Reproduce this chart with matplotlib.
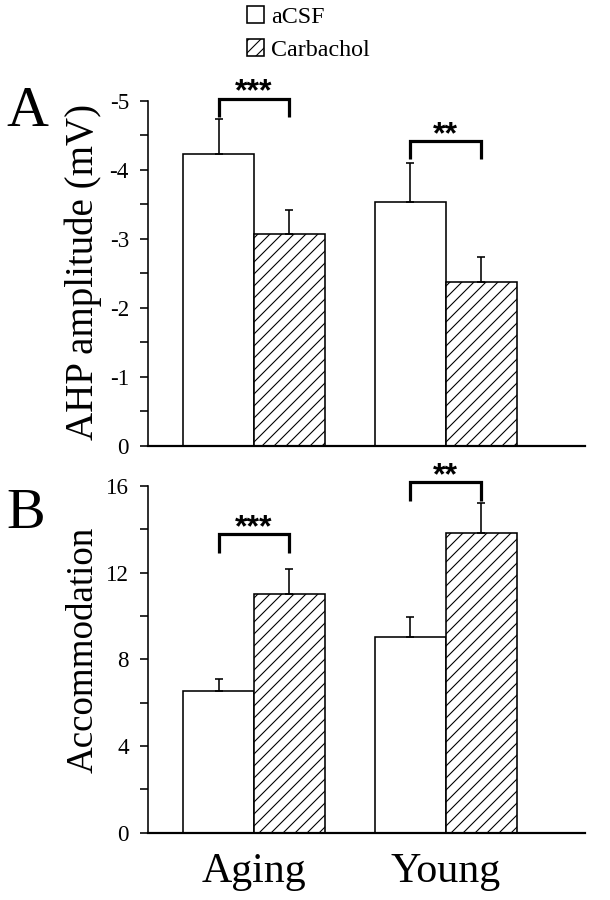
import matplotlib
matplotlib.use("Agg")
import matplotlib.pyplot as plt
import numpy as np

# ---------------- data ----------------
groups = ["Aging", "Young"]
series = ["aCSF", "Carbachol"]

ahp_acsf = [-4.23, -3.54]
ahp_acsf_err = [0.50, 0.56]
ahp_carb = [-3.07, -2.38]
ahp_carb_err = [0.35, 0.36]

acc_acsf = [6.55, 9.05]
acc_acsf_err = [0.53, 0.90]
acc_carb = [11.03, 13.85]
acc_carb_err = [1.15, 1.35]

sig_labels = ["***", "**"]
sig_y_A = [-5.03, -4.42]
sig_y_B = [13.78, 16.17]

ticks_A = [0, -1, -2, -3, -4, -5]
ticklabels_A = ["0", "-1", "-2", "-3", "-4", "-5"]
ticks_B = [0, 4, 8, 12, 16]
ticklabels_B = ["0", "4", "8", "12", "16"]

# ---------------- style ----------------
DPI = 72
W, H = 610, 900
plt.rcParams["font.family"] = ["Liberation Serif", "DejaVu Serif"]
plt.rcParams["hatch.linewidth"] = 1.1
plt.rcParams["axes.unicode_minus"] = False

fig = plt.figure(figsize=(W / DPI, H / DPI), dpi=DPI)

left_px, right_px = 148, 585
axA = fig.add_axes([left_px / W, 1 - 446 / H, (right_px - left_px) / W, (446 - 100.7) / H])
axB = fig.add_axes([left_px / W, 1 - 832.7 / H, (right_px - left_px) / W, (832.7 - 486) / H])

x = np.arange(len(groups))
bw = 0.37
xlim = (-0.553, 1.727)


def draw_panel(ax, a_vals, a_err, c_vals, c_err, negative):
    zeros = [0] * len(a_vals)
    if negative:
        a_yerr = [a_err, zeros]
        c_yerr = [c_err, zeros]
    else:
        a_yerr = [zeros, a_err]
        c_yerr = [zeros, c_err]
    b1 = ax.bar(x - bw / 2, a_vals, bw, color="white", edgecolor="black", linewidth=1.6,
                yerr=a_yerr, error_kw=dict(ecolor="black", elinewidth=1.6, capsize=4, capthick=1.6),
                label=series[0], zorder=2)
    b2 = ax.bar(x + bw / 2, c_vals, bw, color="white", edgecolor="black", linewidth=1.6,
                hatch="//", yerr=c_yerr,
                error_kw=dict(ecolor="black", elinewidth=1.6, capsize=4, capthick=1.6),
                label=series[1], zorder=2)
    ax.set_xlim(*xlim)
    for s in ["top", "right"]:
        ax.spines[s].set_visible(False)
    ax.spines["left"].set_linewidth(1.6)
    ax.spines["bottom"].set_linewidth(2.2)
    ax.tick_params(axis="x", length=0, pad=20, labelsize=42)
    ax.tick_params(axis="y", which="both", direction="out", length=8, width=1.6,
                   pad=11, labelsize=23)
    return b1, b2


bA1, bA2 = draw_panel(axA, ahp_acsf, ahp_acsf_err, ahp_carb, ahp_carb_err, True)
axA.set_ylim(0, -5)
axA.set_yticks(ticks_A)
axA.set_yticklabels(ticklabels_A)
axA.set_yticks(np.arange(-0.5, -5, -1.0), minor=True)
axA.set_xticks([])

bB1, bB2 = draw_panel(axB, acc_acsf, acc_acsf_err, acc_carb, acc_carb_err, False)
axB.set_ylim(0, 16)
axB.set_yticks(ticks_B)
axB.set_yticklabels(ticklabels_B)
axB.set_yticks(np.arange(2, 16, 4), minor=True)
axB.set_xticks(x)
axB.set_xticklabels(groups)


def brackets(ax, ys, drop):
    for xi, yb, lab in zip(x, ys, sig_labels):
        xl, xr = xi - bw / 2, xi + bw / 2
        ax.plot([xl, xl, xr, xr], [yb - drop, yb, yb, yb - drop], color="black",
                lw=3.2, solid_joinstyle="miter", solid_capstyle="butt", clip_on=False, zorder=3)
        ax.annotate(lab, (xi, yb), xytext=(0, -2), textcoords="offset points",
                    ha="center", va="baseline", fontsize=32, fontweight="bold",
                    family=["Liberation Sans", "DejaVu Sans"], annotation_clip=False)


brackets(axA, sig_y_A, -0.27)
brackets(axB, sig_y_B, 0.85)

# y labels
fig.text(83 / W, 1 - 272 / H, "AHP amplitude (mV)", rotation=90, ha="center", va="center", fontsize=39)
fig.text(83 / W, 1 - 650 / H, "Accommodation", rotation=90, ha="center", va="center", fontsize=37)

# panel letters
fig.text(6 / W, 1 - 126 / H, "A", ha="left", va="baseline", fontsize=58)
fig.text(6 / W, 1 - 528 / H, "B", ha="left", va="baseline", fontsize=58)

# legend
fig.legend(handles=[bA1.patches[0], bA2.patches[0]], labels=series,
           loc="upper left", bbox_to_anchor=(247 / W, 1 - 6 / H), frameon=False,
           fontsize=24, handlelength=0.72, handleheight=0.72, handletextpad=0.3,
           labelspacing=0.45, borderpad=0, borderaxespad=0)

fig.savefig("out.png", dpi=DPI)
